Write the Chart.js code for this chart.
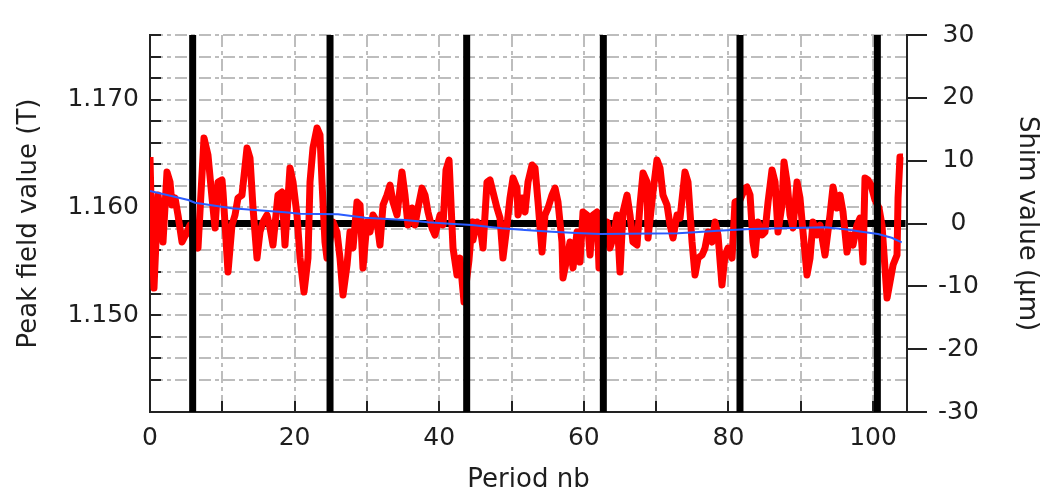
<!DOCTYPE html>
<html>
<head>
<meta charset="utf-8">
<script src="https://cdn.jsdelivr.net/npm/chart.js@4.4.1/dist/chart.umd.min.js"></script>
<style>
  html, body { margin: 0; background: #fff; }
  #wrap { width: 1043px; height: 496px; }
</style>
</head>
<body>
<div id="wrap"><canvas id="fieldChart"></canvas></div>
<script>
// peak field measured along the undulator (red)
const periodNb = [0, 0.14, 0.55, 1.11, 1.66, 1.8, 2.35, 2.77, 3.04, 3.46,
  3.87, 4.43, 5.12, 5.53, 5.95, 6.64, 7.47, 8.02, 8.58, 8.99,
  9.41, 9.96, 10.1, 10.79, 11.34, 11.76, 12.17, 12.72, 13.42, 13.83,
  14.25, 14.8, 15.21, 15.63, 16.18, 16.6, 17.01, 17.7, 18.26, 18.67,
  19.36, 19.78, 20.33, 20.75, 21.3, 21.85, 22.13, 22.54, 23.1, 23.51,
  23.79, 24.2, 24.48, 25.31, 25.86, 26.28, 26.69, 27.25, 27.66, 28.08,
  28.63, 29.05, 29.46, 30.01, 30.43, 30.84, 31.4, 31.81, 32.23, 32.78,
  33.2, 33.61, 34.16, 34.85, 35.27, 35.68, 36.24, 36.65, 37.07, 37.62,
  38.04, 38.45, 39, 39.42, 40.11, 40.53, 40.94, 41.36, 41.91, 42.46,
  42.88, 43.43, 44.12, 44.54, 44.67, 45.23, 45.64, 46.06, 46.61, 47.03,
  47.44, 47.99, 48.41, 48.82, 49.38, 49.79, 50.21, 50.76, 50.9, 51.45,
  51.87, 52.28, 52.84, 53.25, 53.67, 54.22, 54.63, 55.05, 55.6, 56.02,
  56.43, 56.98, 57.12, 57.68, 58.09, 58.51, 59.06, 59.47, 59.89, 60.44,
  60.86, 61.27, 61.83, 62.1, 62.79, 63.21, 63.62, 64.04, 64.59, 65.01,
  65.42, 65.98, 66.39, 66.8, 67.36, 67.77, 68.19, 68.74, 68.88, 69.57,
  70.12, 70.54, 70.95, 71.51, 71.92, 72.34, 72.89, 73.31, 73.99, 74.41,
  74.97, 75.38, 75.8, 76.35, 76.76, 77.18, 77.73, 78.15, 78.56, 79.11,
  79.53, 79.94, 80.5, 80.91, 81.61, 82.3, 82.57, 82.99, 83.4, 83.68,
  84.09, 84.65, 85.06, 85.48, 86.03, 86.45, 86.86, 87.41, 87.69, 88.11,
  88.52, 88.93, 89.49, 89.9, 90.32, 90.87, 91.29, 91.7, 92.25, 92.67,
  93.36, 94.05, 94.47, 95.02, 95.44, 95.85, 96.4, 96.82, 97.23, 97.79,
  98.2, 98.62, 98.89, 99.31, 99.72, 100.28, 100.83, 101.24, 101.94, 102.35,
  102.77, 103.32, 103.46, 103.73, 104.15];
const peakField = [1.16467, 1.16068, 1.15251, 1.16114, 1.15836, 1.15678, 1.16328, 1.16235, 1.16022, 1.16087,
  1.15929, 1.15678, 1.15771, 1.15836, 1.15697, 1.15622, 1.16644, 1.16486, 1.16087, 1.15808,
  1.16235, 1.16254, 1.16142, 1.15399, 1.15836, 1.15929, 1.16087, 1.16114, 1.16551, 1.16458,
  1.15994, 1.15529, 1.15771, 1.15864, 1.15929, 1.15808, 1.15650, 1.16114, 1.16142, 1.15650,
  1.16365, 1.16235, 1.15929, 1.15529, 1.15214, 1.15529, 1.16235, 1.16551, 1.16737, 1.16672,
  1.16235, 1.15678, 1.15529, 1.15864, 1.15771, 1.15529, 1.15186, 1.15464, 1.15771, 1.15622,
  1.16049, 1.16022, 1.15437, 1.15864, 1.15771, 1.15929, 1.15864, 1.15650, 1.16022, 1.16114,
  1.16207, 1.16049, 1.15929, 1.16328, 1.16114, 1.15836, 1.15994, 1.15836, 1.15994, 1.16179,
  1.16114, 1.15957, 1.15808, 1.15743, 1.15929, 1.15836, 1.16347, 1.16439, 1.15622, 1.15372,
  1.15529, 1.15121, 1.15511, 1.15864, 1.15697, 1.15864, 1.15836, 1.15622, 1.16235, 1.16254,
  1.16142, 1.15994, 1.15901, 1.15529, 1.15836, 1.16087, 1.16272, 1.16179, 1.15929, 1.16087,
  1.15957, 1.16235, 1.16393, 1.16365, 1.16049, 1.15585, 1.15929, 1.15994, 1.16114, 1.16179,
  1.16049, 1.15678, 1.15344, 1.15529, 1.15678, 1.15437, 1.15771, 1.15492, 1.15957, 1.15929,
  1.15557, 1.15929, 1.15957, 1.15437, 1.15697, 1.15864, 1.15622, 1.15715, 1.15929, 1.15399,
  1.15957, 1.16114, 1.15929, 1.15678, 1.15650, 1.16022, 1.16319, 1.16235, 1.15715, 1.16142,
  1.16439, 1.16365, 1.16114, 1.16022, 1.15836, 1.15715, 1.15929, 1.15901, 1.16328, 1.16235,
  1.15678, 1.15372, 1.15529, 1.15557, 1.15622, 1.15771, 1.15678, 1.15864, 1.15743, 1.15279,
  1.15557, 1.15622, 1.15529, 1.16049, 1.16068, 1.16179, 1.16189, 1.16114, 1.15678, 1.15557,
  1.15864, 1.15743, 1.15771, 1.16049, 1.16347, 1.16235, 1.15771, 1.16022, 1.16421, 1.16235,
  1.15929, 1.15808, 1.16235, 1.16087, 1.15771, 1.15372, 1.15529, 1.15864, 1.15743, 1.15836,
  1.15557, 1.15929, 1.16189, 1.15994, 1.16114, 1.15957, 1.15585, 1.15743, 1.15650, 1.15836,
  1.15901, 1.15492, 1.16272, 1.16254, 1.16207, 1.16068, 1.15994, 1.15836, 1.15158, 1.15307,
  1.15464, 1.15557, 1.16087, 1.16467, 1.16467];

// smooth trend of the peak field (blue)
const trendNb = [0, 5.3, 6.22, 11.3, 18.67, 20.75, 26, 29.74, 35.27, 38.45, 41.49, 44.49, 48.64, 51.87,
  55.56, 59.71, 62.24, 73.03, 75.38, 78.56, 82.99, 87.37, 93.36, 96.13, 98.44, 100.69, 102.59, 103.97];
const trendField = [1.16152, 1.16068, 1.16043, 1.15991, 1.15954, 1.15941, 1.15935, 1.15904, 1.15882, 1.15861,
  1.15848, 1.15836, 1.15805, 1.15789, 1.15774, 1.15759, 1.15752, 1.15759, 1.15768, 1.15783, 1.15799,
  1.15805, 1.15815, 1.15796, 1.15774, 1.15752, 1.15718, 1.15675];

// shim values (right axis)
const shimNb = [2.5, 104.5];
const shimValue = [0, 0];

// module boundaries
const moduleEdges = [5.9, 24.9, 43.8, 62.7, 81.6, 100.6];

const fieldRange = [1.141, 1.176];
const shimRange = [-30, 30];
const periodRange = [0, 104.7];

const font = { family: 'DejaVu Sans', size: 25 };
const titleFont = { family: 'DejaVu Sans', size: 26 };
const textColor = '#1e1e1e';
const gridStyle = {
  color: '#bdbdbd',
  lineWidth: 2,
  drawTicks: false
};
const dash = { dash: [12, 4, 4, 4] };

const innerTicks = {
  id: 'innerTicks',
  beforeDatasetsDraw(chart) {
    const { ctx, chartArea: a, scales } = chart;
    ctx.save();
    ctx.strokeStyle = '#222';
    ctx.lineWidth = 2;
    ctx.beginPath();
    scales.y.ticks.forEach(t => {
      const y = Math.round(scales.y.getPixelForValue(t.value));
      ctx.moveTo(a.left, y);
      ctx.lineTo(a.left + 11, y);
    });
    scales.x.ticks.forEach(t => {
      const x = Math.round(scales.x.getPixelForValue(t.value));
      ctx.moveTo(x, a.bottom);
      ctx.lineTo(x, a.bottom - 11);
    });
    ctx.stroke();
    ctx.restore();
  }
};

const line = (data, color, width, order, axis) => ({
  data, borderColor: color, backgroundColor: color, borderWidth: width,
  pointRadius: 0, tension: 0, order, yAxisID: axis, borderJoinStyle: 'round'
});

const ctx = document.getElementById('fieldChart').getContext('2d');
const fieldChart = new Chart(ctx, {
  type: 'line',
  data: {
    datasets: [
      line(trendNb.map((x, i) => ({ x, y: trendField[i] })), '#2a5cff', 2, 0, 'y'),
      ...moduleEdges.map(x => line([{ x, y: fieldRange[0] }, { x, y: fieldRange[1] }], '#000', 7, 1, 'y')),
      line(periodNb.map((x, i) => ({ x, y: peakField[i] })), '#ff0000', 7, 2, 'y'),
      line(shimNb.map((x, i) => ({ x, y: shimValue[i] })), '#000', 7, 3, 'y2')
    ]
  },
  options: {
    responsive: true,
    maintainAspectRatio: false,
    animation: false,
    layout: { padding: { top: 35, left: 0, right: 0, bottom: 0 } },
    plugins: { legend: { display: false }, tooltip: { enabled: false } },
    scales: {
      x: {
        type: 'linear',
        min: periodRange[0],
        max: periodRange[1],
        grid: gridStyle,
        border: { display: true, color: '#222', width: 2, ...dash },
        ticks: {
          stepSize: 10, padding: 11, font, color: textColor, autoSkip: false, maxRotation: 0,
          includeBounds: false,
          callback: v => (v % 20 === 0 ? String(v) : '')
        },
        title: { display: true, text: 'Period nb', font: titleFont, color: textColor, padding: { top: 0, bottom: 0 } },
        afterFit: s => { s.height = 84; }
      },
      y: {
        position: 'left',
        min: fieldRange[0],
        max: fieldRange[1],
        grid: gridStyle,
        border: { display: true, color: '#222', width: 2, ...dash },
        ticks: {
          stepSize: 0.002, padding: 11, font, color: textColor, autoSkip: false,
          callback: v => (Math.abs(v * 100 - Math.round(v * 100)) < 1e-7 ? v.toFixed(3) : '')
        },
        title: { display: true, text: 'Peak field value (T)', font: titleFont, color: textColor, padding: { top: 14, bottom: 0 } },
        afterFit: s => { s.width = 150; }
      },
      y2: {
        position: 'right',
        min: shimRange[0],
        max: shimRange[1],
        grid: { drawOnChartArea: false, drawTicks: true, tickLength: 20, color: '#222', lineWidth: 2 },
        border: { display: true, color: '#222', width: 2 },
        ticks: { stepSize: 10, padding: 11, font, color: textColor, crossAlign: 'center' },
        title: { display: true, text: 'Shim value (µm)', font: titleFont, color: textColor, padding: { top: 1, bottom: 0 } },
        afterFit: s => { s.width = 136; }
      }
    }
  },
  plugins: [innerTicks]
});
</script>
</body>
</html>
